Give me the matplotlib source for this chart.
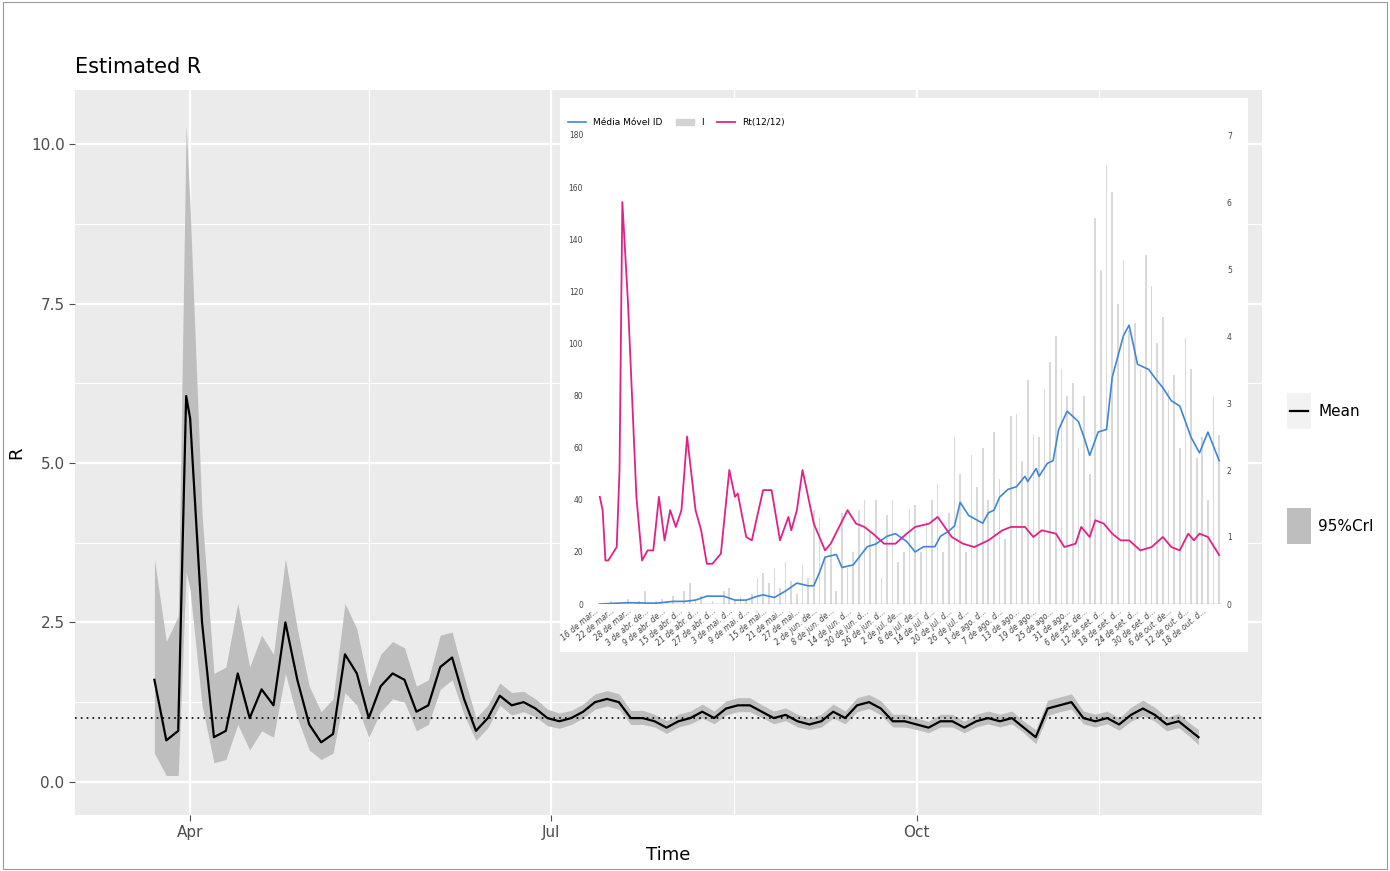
import numpy as np
import matplotlib.pyplot as plt
import matplotlib.dates as mdates
from matplotlib.lines import Line2D
from matplotlib.patches import Patch

# ---- main chart: estimated R (2020) ----
r_dates = ['2020-03-23', '2020-03-26', '2020-03-29', '2020-03-31', '2020-04-01', '2020-04-04',
           '2020-04-07', '2020-04-10', '2020-04-13', '2020-04-16', '2020-04-19', '2020-04-22',
           '2020-04-25', '2020-04-28', '2020-05-01', '2020-05-04', '2020-05-07', '2020-05-10',
           '2020-05-13', '2020-05-16', '2020-05-19', '2020-05-22', '2020-05-25', '2020-05-28',
           '2020-05-31', '2020-06-03', '2020-06-06', '2020-06-09', '2020-06-12', '2020-06-15',
           '2020-06-18', '2020-06-21', '2020-06-24', '2020-06-27', '2020-06-30', '2020-07-03',
           '2020-07-06', '2020-07-09', '2020-07-12', '2020-07-15', '2020-07-18', '2020-07-21',
           '2020-07-24', '2020-07-27', '2020-07-30', '2020-08-02', '2020-08-05', '2020-08-08',
           '2020-08-11', '2020-08-14', '2020-08-17', '2020-08-20', '2020-08-23', '2020-08-26',
           '2020-08-29', '2020-09-01', '2020-09-04', '2020-09-07', '2020-09-10', '2020-09-13',
           '2020-09-16', '2020-09-19', '2020-09-22', '2020-09-25', '2020-09-28', '2020-10-01',
           '2020-10-04', '2020-10-07', '2020-10-10', '2020-10-13', '2020-10-16', '2020-10-19',
           '2020-10-22', '2020-10-25', '2020-10-28', '2020-10-31', '2020-11-03', '2020-11-06',
           '2020-11-09', '2020-11-12', '2020-11-15', '2020-11-18', '2020-11-21', '2020-11-24',
           '2020-11-27', '2020-11-30', '2020-12-03', '2020-12-06', '2020-12-09', '2020-12-11']
r_mean = [1.6, 0.65, 0.8, 6.05, 5.7, 2.5, 0.7, 0.8, 1.7, 1.0, 1.45, 1.2,
          2.5, 1.6, 0.9, 0.62, 0.75, 2.0, 1.7, 1.0, 1.5, 1.7, 1.6, 1.1,
          1.2, 1.8, 1.95, 1.3, 0.8, 1.0, 1.35, 1.2, 1.25, 1.15, 1.0, 0.95,
          1.0, 1.1, 1.25, 1.3, 1.25, 1.0, 1.0, 0.95, 0.85, 0.95, 1.0, 1.1,
          1.0, 1.15, 1.2, 1.2, 1.1, 1.0, 1.05, 0.95, 0.9, 0.95, 1.1, 1.0,
          1.2, 1.25, 1.15, 0.95, 0.95, 0.9, 0.85, 0.95, 0.95, 0.85, 0.95, 1.0,
          0.95, 1.0, 0.85, 0.7, 1.15, 1.2, 1.25, 1.0, 0.95, 1.0, 0.9, 1.05,
          1.15, 1.05, 0.9, 0.95, 0.8, 0.7]
r_lo = [0.45, 0.1, 0.1, 3.3, 3.0, 1.2, 0.3, 0.35, 0.9, 0.5, 0.8, 0.7,
        1.7, 1.0, 0.5, 0.35, 0.45, 1.4, 1.2, 0.7, 1.1, 1.3, 1.25, 0.8,
        0.9, 1.45, 1.6, 1.05, 0.65, 0.85, 1.2, 1.05, 1.1, 1.02, 0.88, 0.84,
        0.9, 1.0, 1.14, 1.19, 1.14, 0.9, 0.9, 0.86, 0.76, 0.86, 0.91, 1.0,
        0.91, 1.05, 1.1, 1.1, 1.01, 0.91, 0.96, 0.86, 0.82, 0.86, 1.0, 0.91,
        1.1, 1.15, 1.05, 0.86, 0.86, 0.82, 0.77, 0.86, 0.86, 0.77, 0.86, 0.91,
        0.86, 0.91, 0.77, 0.6, 1.04, 1.1, 1.14, 0.91, 0.86, 0.91, 0.81, 0.95,
        1.04, 0.95, 0.8, 0.85, 0.7, 0.58]
r_hi = [3.5, 2.2, 2.6, 10.3, 9.0, 4.2, 1.7, 1.8, 2.8, 1.8, 2.3, 2.0,
        3.5, 2.4, 1.5, 1.1, 1.3, 2.8, 2.4, 1.5, 2.0, 2.2, 2.1, 1.5,
        1.6, 2.3, 2.35, 1.65, 1.0, 1.2, 1.55, 1.4, 1.42, 1.3, 1.14, 1.08,
        1.12, 1.22, 1.38, 1.43, 1.38, 1.12, 1.12, 1.06, 0.96, 1.06, 1.11, 1.22,
        1.11, 1.27, 1.32, 1.32, 1.21, 1.11, 1.16, 1.06, 1.0, 1.06, 1.22, 1.11,
        1.32, 1.37, 1.27, 1.06, 1.06, 1.0, 0.95, 1.06, 1.06, 0.95, 1.06, 1.11,
        1.06, 1.11, 0.95, 0.82, 1.28, 1.33, 1.38, 1.11, 1.06, 1.11, 1.0, 1.17,
        1.28, 1.17, 1.01, 1.07, 0.91, 0.82]

# ---- inset: daily cases, moving average, Rt (days after 16 mar) ----
bar_cases = [0, 0, 1, 0, 0, 2, 0, 1, 5, 0, 1,
             2, 1, 3, 0, 5, 8, 2, 3, 0,
             1, 0, 5, 6, 2, 3, 1, 4, 10, 12,
             8, 14, 6, 16, 9, 4, 15, 10, 36, 33,
             18, 22, 5, 35, 14, 20, 36, 40, 28, 40,
             10, 34, 40, 16, 20, 36, 38, 20, 32, 40,
             46, 20, 35, 64, 50, 20, 57, 45, 60, 40,
             66, 48, 25, 72, 73, 55, 86, 65, 64, 82,
             93, 103, 90, 80, 85, 60, 80, 50, 148, 128,
             168, 158, 115, 132, 105, 108, 90, 134, 122, 100,
             110, 82, 88, 60, 102, 90, 56, 64, 40, 80, 65]
bar_days = [2 * i for i in range(len(bar_cases))]
ma_days = [0, 10, 20, 26, 30, 34, 38, 44, 48, 52, 56, 58, 62, 66, 70, 74, 76, 78, 80, 84,
           86, 90, 95, 98, 102, 105, 109, 112, 115, 119, 121, 124, 126, 128, 131, 136,
           138, 140, 142, 145, 148, 151, 152, 155, 156, 159, 161, 163, 166, 170, 172,
           174, 177, 180, 182, 186, 188, 191, 195, 197, 200, 203, 206, 210, 213, 216, 220]
ma_vals = [0, 0.5, 0.3, 1, 1, 1.5, 3, 3, 1.5, 1.5, 3, 3.5, 2.5, 5, 8, 7, 7, 12, 18, 19,
           14, 15, 22, 23, 26, 27, 24, 20, 22, 22, 26, 28, 30, 39, 34, 31,
           35, 36, 41, 44, 45, 49, 47, 52, 49, 54, 55, 67, 74, 70, 64,
           57, 66, 67, 87, 103, 107, 92, 90, 87, 83, 78, 76, 64, 58, 66, 55]
rt_days = [0, 1, 2, 3, 6, 7, 8, 10, 13, 15, 17, 19, 21, 23, 25, 27, 29, 31, 34, 36, 38, 40,
           43, 46, 48, 49, 52, 54, 58, 61, 64, 67, 68, 70, 72, 74, 76, 80, 82, 88, 91, 94,
           97, 101, 105, 109, 112, 117, 120, 125, 129, 133, 138, 143, 146, 151, 154, 157,
           162, 165, 169, 171, 174, 176, 179, 182, 185, 188, 192, 196, 200, 203, 206, 209,
           211, 213, 216, 220]
rt_vals = [1.6, 1.4, 0.65, 0.65, 0.85, 2.0, 6.0, 4.5, 1.6, 0.65, 0.8, 0.8, 1.6, 0.95, 1.4,
           1.15, 1.4, 2.5, 1.4, 1.1, 0.6, 0.6, 0.75, 2.0, 1.6, 1.65, 1.0, 0.95, 1.7, 1.7,
           0.95, 1.3, 1.1, 1.4, 2.0, 1.6, 1.2, 0.8, 0.9, 1.4, 1.2, 1.15, 1.05, 0.9, 0.9,
           1.05, 1.15, 1.2, 1.3, 1.0, 0.9, 0.85, 0.95, 1.1, 1.15, 1.15, 1.0, 1.1, 1.05,
           0.85, 0.9, 1.15, 1.0, 1.25, 1.2, 1.05, 0.95, 0.95, 0.8, 0.85, 1.0, 0.85, 0.8,
           1.05, 0.95, 1.05, 1.0, 0.73]
inset_labels = ['16 de mar...', '22 de mar...', '28 de mar...', '3 de abr. de...', '9 de abr. de...',
                '15 de abr. d...', '21 de abr. d...', '27 de abr. d...', '3 de mai. d...',
                '9 de mai. d...', '15 de mai...', '21 de mai...', '27 de mai...', '2 de jun. de...',
                '8 de jun. de...', '14 de jun. d...', '20 de jun. d...', '26 de jun. d...',
                '2 de jul. de...', '8 de jul. de...', '14 de jul. d...', '20 de jul. d...',
                '26 de jul. d...', '1 de ago. d...', '7 de ago. d...', '13 de ago...',
                '19 de ago...', '25 de ago...', '31 de ago...', '6 de set. de...',
                '12 de set. d...', '18 de set. d...', '24 de set. d...', '30 de set. d...',
                '6 de out. de...', '12 de out. d...', '18 de out. d...']

W, H = 1390, 871
fig = plt.figure(figsize=(13.9, 8.71), dpi=100, facecolor='white')
fig.add_artist(plt.Rectangle((0.002, 0.002), 0.996, 0.996, transform=fig.transFigure,
                             fill=False, edgecolor='#999999', lw=0.8))

ax = fig.add_axes([75 / W, 1 - 815 / H, (1262 - 75) / W, (815 - 90) / H])
ax.set_facecolor('#EBEBEB')
dates = np.array(r_dates, dtype='datetime64[D]')
ax.fill_between(dates, r_lo, r_hi, color='#BEBEBE', lw=0, zorder=2)
ax.plot(dates, r_mean, color='black', lw=1.6, zorder=3)
ax.axhline(1, color='black', ls=(0, (1, 2.5)), lw=1.2, zorder=3)
ax.set_xlim(np.datetime64('2020-03-03'), np.datetime64('2020-12-27'))
ax.set_ylim(-0.52, 10.85)
ax.set_yticks([0, 2.5, 5, 7.5, 10])
ax.set_yticklabels(['0.0', '2.5', '5.0', '7.5', '10.0'])
ax.set_yticks([1.25, 3.75, 6.25, 8.75], minor=True)
ax.xaxis.set_major_locator(mdates.MonthLocator(bymonth=[4, 7, 10]))
ax.xaxis.set_major_formatter(mdates.DateFormatter('%b'))
ax.set_xticks([np.datetime64('2020-05-16'), np.datetime64('2020-08-16'), np.datetime64('2020-11-16')], minor=True)
ax.grid(which='major', color='white', lw=1.6)
ax.grid(which='minor', color='white', lw=0.8)
ax.set_axisbelow(True)
for s in ax.spines.values():
    s.set_visible(False)
ax.tick_params(which='major', colors='#4D4D4D', labelsize=11, length=4)
ax.tick_params(which='minor', length=0)
ax.set_xlabel('Time', fontsize=13)
ax.set_ylabel('R', fontsize=13)
ax.set_title('Estimated R', loc='left', fontsize=15, pad=12)

# ggplot-like legend: key on light grey square, label to the right
for yy, lab in ((411, 'Mean'), (526, '95%CrI')):
    fig.add_artist(plt.Rectangle((1287 / W, 1 - (yy + 18) / H), 24 / W, 36 / H,
                                 transform=fig.transFigure, facecolor='#F2F2F2', edgecolor='none'))
    fig.text(1318 / W, 1 - yy / H, lab, fontsize=11, va='center', ha='left')
fig.add_artist(Line2D([1290 / W, 1308 / W], [1 - 411 / H, 1 - 411 / H], color='black', lw=1.6))
fig.add_artist(plt.Rectangle((1287 / W, 1 - 544 / H), 24 / W, 36 / H,
                             transform=fig.transFigure, facecolor='#BEBEBE', edgecolor='none'))

# inset
fig.add_artist(plt.Rectangle((560 / W, 1 - 652 / H), (1248 - 560) / W, (652 - 98) / H,
                             transform=fig.transFigure, facecolor='white', edgecolor='none', zorder=5))
ia = fig.add_axes([597 / W, 1 - 604 / H, (1222 - 597) / W, (604 - 135) / H], zorder=6)
ia.bar(bar_days, bar_cases, width=0.6, color='#D9D9D9', zorder=1)
ia.plot(ma_days, ma_vals, color='#3F87D6', lw=1.2, zorder=3)
ia.set_xlim(-1, 221)
ia.set_ylim(0, 180)
ia.set_yticks(range(0, 181, 20))
ia.set_xticks(range(0, 217, 6))
ia.set_xticklabels(inset_labels, rotation=40, ha='right', fontsize=5.5, style='italic')
ia.tick_params(labelsize=5.5, length=0, colors='#444444')
ia.tick_params(axis='x', pad=2)
ia.tick_params(axis='y', pad=10)
for s in ia.spines.values():
    s.set_visible(False)
ia.axhline(0, color='#999999', lw=1)
ia.set_facecolor('none')
ib = ia.twinx()
ib.plot(rt_days, rt_vals, color='#E0218A', lw=1.3)
ib.set_ylim(0, 7)
ib.set_yticks(range(0, 8))
ib.tick_params(labelsize=5.5, length=0, colors='#444444')
for s in ib.spines.values():
    s.set_visible(False)
ia.legend(handles=[Line2D([], [], color='#3F87D6', lw=1.2), Patch(color='#D3D3D3'),
                   Line2D([], [], color='#E0218A', lw=1.3)],
          labels=['Média Móvel ID', 'I', 'Rt(12/12)'], ncol=3, loc='lower left',
          bbox_to_anchor=(-0.06, 1.0), frameon=False, fontsize=6.5,
          handlelength=2, columnspacing=1.5)

fig.savefig('out.png', dpi=100)
